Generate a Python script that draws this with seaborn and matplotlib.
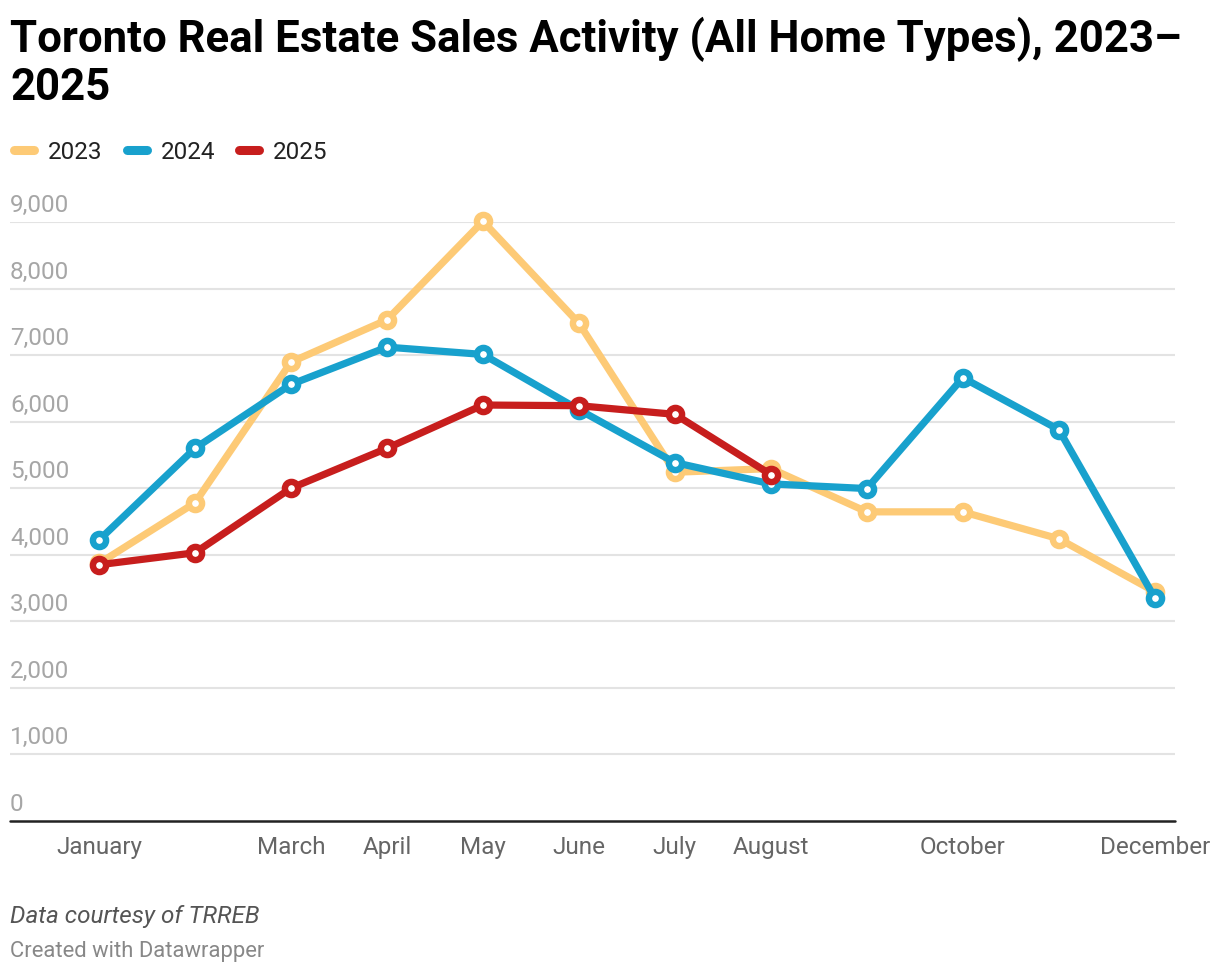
import pandas as pd
import seaborn as sns
import matplotlib.pyplot as plt
from matplotlib.lines import Line2D
from matplotlib.transforms import offset_copy

# Monthly sales
months = ['January', 'February', 'March', 'April', 'May', 'June', 'July',
          'August', 'September', 'October', 'November', 'December']
sales_2023 = [3870, 4780, 6895, 7530, 9010, 7480, 5240, 5295, 4645, 4645, 4240, 3445]
sales_2024 = [4220, 5600, 6560, 7120, 7010, 6180, 5385, 5065, 4995, 6660, 5880, 3350]
sales_2025 = [3850, 4030, 5000, 5600, 6250, 6240, 6110, 5205]
years = ['2023', '2024', '2025']
colors = ['#fdca76', '#18a1cd', '#c71e1d']
shown_months = ['January', 'March', 'April', 'May', 'June', 'July', 'August', 'October', 'December']
y_ticks = [0, 1000, 2000, 3000, 4000, 5000, 6000, 7000, 8000, 9000]

rows = []
for yr, vals in zip(years, [sales_2023, sales_2024, sales_2025]):
    for i, v in enumerate(vals):
        rows.append({'year': yr, 'm': i, 'sales': v})
df = pd.DataFrame(rows)

sns.set_theme(style='white')
plt.rcParams['font.family'] = ['Roboto', 'DejaVu Sans']

W, H = 1220, 976
fig = plt.figure(figsize=(W / 100, H / 100), dpi=100)
ax = fig.add_axes([10 / W, (H - 821) / H, 1165 / W, (821 - 222) / H])

for yr, col in zip(years, colors):
    d = df[df['year'] == yr]
    sns.lineplot(data=d, x='m', y='sales', ax=ax, color=col, lw=5.2,
                 marker='o', markersize=9.5, markerfacecolor='white',
                 markeredgecolor=col, markeredgewidth=4.6,
                 solid_capstyle='round', solid_joinstyle='round', clip_on=False, zorder=3)

ax.set_xlim(-0.927, 11.21)
ax.set_ylim(0, 9000)

# gridlines and baseline
for v in y_ticks[1:]:
    ax.axhline(v, color='#e3e3e3', lw=1.5, zorder=1)
ax.axhline(0, color='#222222', lw=1.8, zorder=2, clip_on=False)
for s in ax.spines.values():
    s.set_visible(False)

# y labels sit above gridlines, Datawrapper style
lab_tr = offset_copy(ax.get_yaxis_transform(), fig=fig, x=0, y=5, units='dots')
for v in y_ticks:
    ax.text(0, v, f'{v:,}', transform=lab_tr, ha='left', va='bottom',
            fontsize=17.5, color='#a6a6a6')
ax.set_yticks([])

ax.set_xticks([months.index(m) for m in shown_months])
ax.set_xticklabels(shown_months, fontsize=17.5, color='#666666')
ax.tick_params(axis='x', length=0, pad=11)
ax.set_xlabel('')
ax.set_ylabel('')

# title
fig.text(10 / W, 1 - 17 / H, 'Toronto Real Estate Sales Activity (All Home Types), 2023–\n2025',
         ha='left', va='top', fontsize=31.5, fontweight='bold', color='#000000', linespacing=1.15)

# legend
sw_x = [10, 123, 235]
for x0, yr, col in zip(sw_x, years, colors):
    fig.add_artist(Line2D([(x0 + 4) / W, (x0 + 24) / W], [1 - 150 / H] * 2, color=col, lw=6.5,
                          solid_capstyle='round', transform=fig.transFigure))
    fig.text((x0 + 38) / W, 1 - 150 / H, yr, ha='left', va='center_baseline', fontsize=17.5, color='#222222')

# footer
fig.text(10 / W, 1 - 916 / H, 'Data courtesy of TRREB', ha='left', va='center',
         fontsize=17.5, style='italic', color='#555555')
fig.text(10 / W, 1 - 952 / H, 'Created with Datawrapper', ha='left', va='center',
         fontsize=15.8, color='#888888')

fig.savefig('out.png', dpi=100, facecolor='white')
